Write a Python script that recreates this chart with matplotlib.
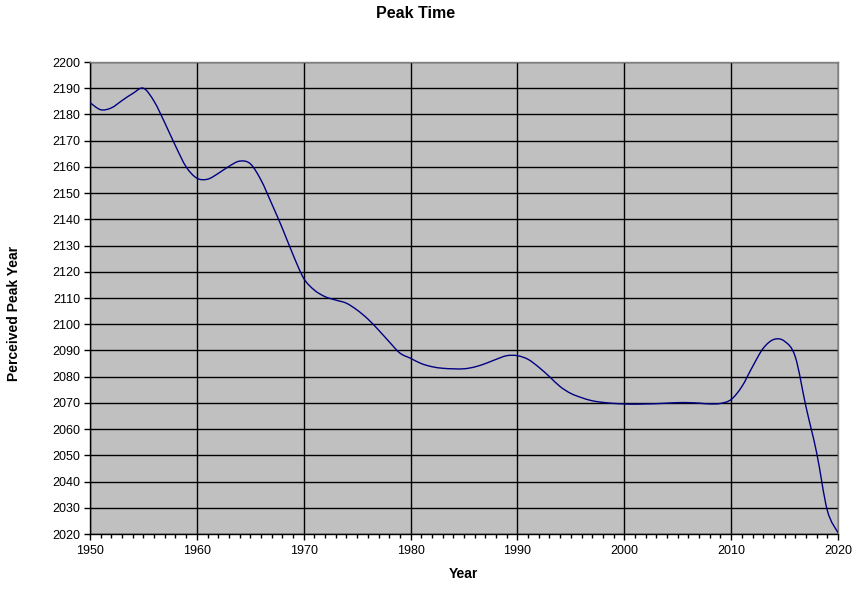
import matplotlib
matplotlib.use("Agg")
import matplotlib.pyplot as plt
import numpy as np
from matplotlib.path import Path
from matplotlib.patches import PathPatch
from matplotlib.ticker import MultipleLocator

plt.rcParams['font.family'] = ['Liberation Sans', 'DejaVu Sans']

years = list(range(1950, 2021))
peak_year = [
    2184.5, 2181.8, 2182.5, 2185.3, 2188.0, 2190.0, 2185.0, 2176.8, 2168.0, 2160.0,  # 1950-1959
    2155.7, 2155.3, 2157.5, 2160.2, 2162.2, 2161.2, 2155.0, 2146.0, 2136.6, 2126.5,  # 1960-1969
    2117.5, 2113.0, 2110.5, 2109.2, 2108.0, 2105.4, 2102.0, 2097.8, 2093.3, 2089.0,  # 1970-1979
    2087.0, 2085.0, 2083.8, 2083.2, 2083.0, 2083.0, 2083.7, 2085.0, 2086.6, 2088.0,  # 1980-1989
    2088.0, 2086.6, 2083.6, 2080.0, 2076.2, 2073.6, 2072.0, 2070.8, 2070.2, 2069.8,  # 1990-1999
    2069.6, 2069.5, 2069.6, 2069.7, 2069.9, 2070.1, 2070.1, 2069.9, 2069.6, 2069.8,  # 2000-2009
    2071.3, 2076.2, 2083.8, 2090.8, 2094.2, 2093.5, 2087.6, 2068.6, 2051.0, 2029.0,  # 2010-2019
    2020.5,                                                                          # 2020
]

title = "Peak Time"
xlabel = "Year"
ylabel = "Perceived Peak Year"

fig = plt.figure(figsize=(8.6, 5.92), dpi=100)
ax = fig.add_axes([90/860, 58/592, 748/860, 472/592])
ax.set_facecolor('#C0C0C0')

# smoothed line (Catmull-Rom -> cubic Bezier), like Excel's smoothed line
x = np.array(years, dtype=float)
y = np.array(peak_year, dtype=float)
verts = [(x[0], y[0])]
codes = [Path.MOVETO]
n = len(x)
for i in range(n - 1):
    p0 = (x[i-1], y[i-1]) if i > 0 else (x[i], y[i])
    p1 = (x[i], y[i])
    p2 = (x[i+1], y[i+1])
    p3 = (x[i+2], y[i+2]) if i + 2 < n else (x[i+1], y[i+1])
    c1 = (p1[0] + (p2[0] - p0[0]) / 6, p1[1] + (p2[1] - p0[1]) / 6)
    c2 = (p2[0] - (p3[0] - p1[0]) / 6, p2[1] - (p3[1] - p1[1]) / 6)
    verts += [c1, c2, p2]
    codes += [Path.CURVE4] * 3
path = Path(verts, codes)
ax.add_patch(PathPatch(path, facecolor='none', edgecolor='#000080', lw=1.0, zorder=3))

ax.set_xlim(1950, 2020)
ax.set_ylim(2020, 2200)
ax.xaxis.set_major_locator(MultipleLocator(10))
ax.xaxis.set_minor_locator(MultipleLocator(1))
ax.yaxis.set_major_locator(MultipleLocator(10))
ax.grid(True, which='major', color='black', lw=1.0, zorder=1)
ax.set_axisbelow(True)

ax.tick_params(axis='both', which='major', direction='out', length=4, width=1,
               labelsize=9, colors='black', pad=3)
ax.tick_params(axis='x', which='minor', direction='out', length=3, width=1)
ax.tick_params(axis='x', which='major', pad=4)

for s in ['left', 'bottom']:
    ax.spines[s].set_color('black')
    ax.spines[s].set_linewidth(1.0)
for s in ['top', 'right']:
    ax.spines[s].set_color('#808080')
    ax.spines[s].set_linewidth(1.0)

fig.text(416/860, 1 - 14/592, title, ha='center', va='center', fontsize=11.5, fontweight='bold')
fig.text(463/860, 1 - 574/592, xlabel, ha='center', va='center', fontsize=10, fontweight='bold')
fig.text(14/860, 1 - 313/592, ylabel, ha='center', va='center', fontsize=10,
         fontweight='bold', rotation=90)

fig.savefig('out.png', dpi=100, facecolor='white')
